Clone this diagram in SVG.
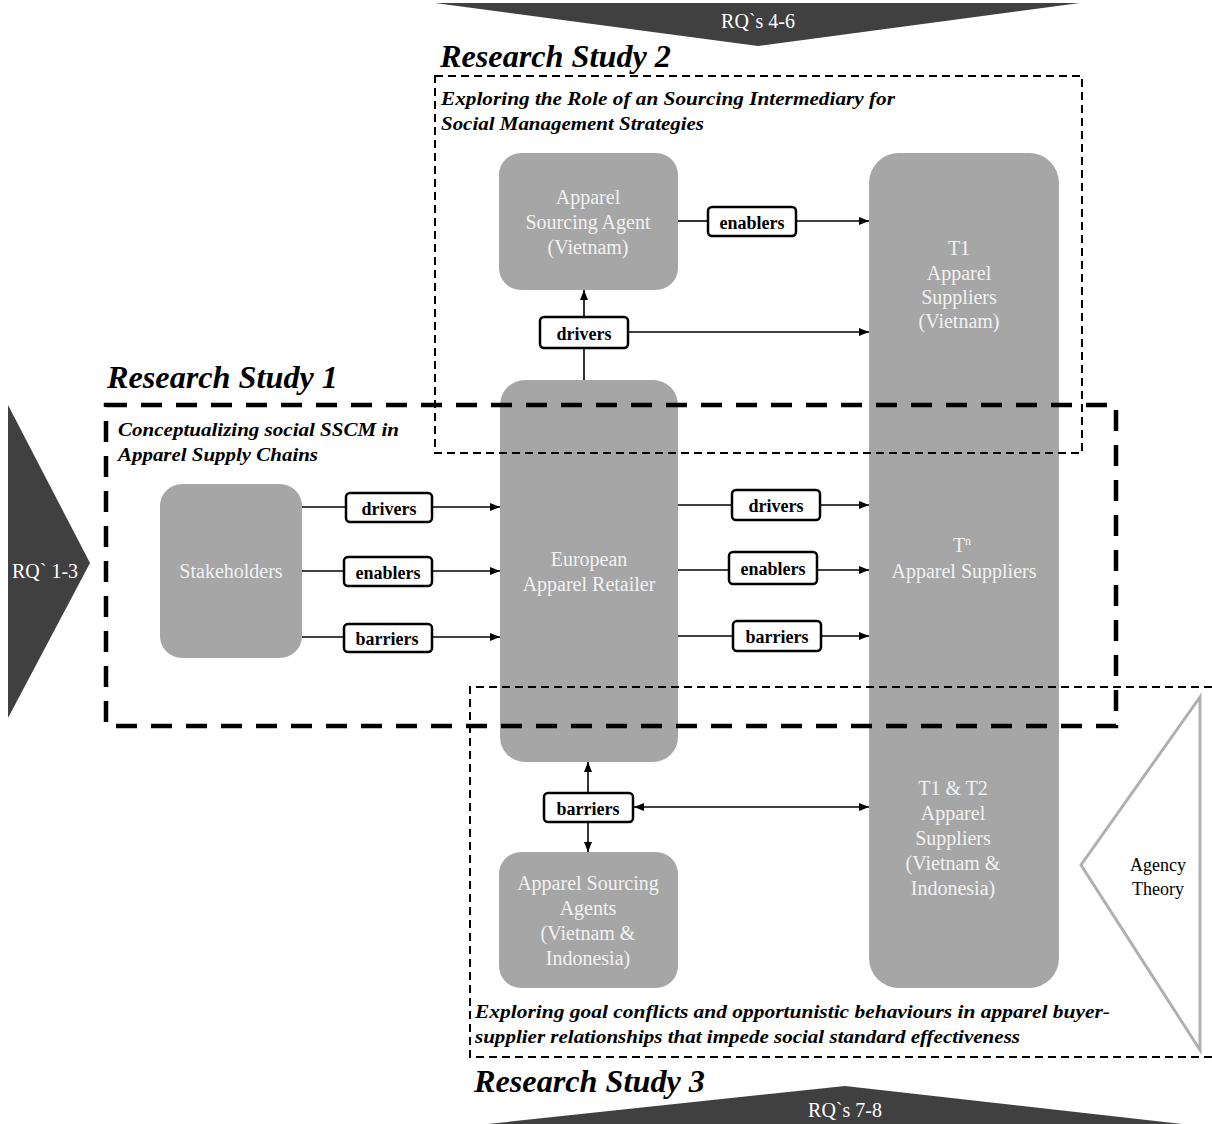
<svg xmlns="http://www.w3.org/2000/svg" width="1212" height="1124" viewBox="0 0 1212 1124">
  <style>
    text { font-family: "Liberation Serif", Tinos, "Times New Roman", Times, "DejaVu Serif", serif; }
    .node { fill: #a6a6a6; }
    .ntext { font-size: 20px; fill: #f2f2f2; text-anchor: middle; }
    .lbl { fill: #ffffff; stroke: #000000; stroke-width: 2.5; }
    .ltext { font-size: 18px; font-weight: bold; fill: #000000; text-anchor: middle; }
    .title { font-size: 31px; font-weight: bold; font-style: italic; fill: #000000; }
    .sub { font-size: 19px; font-weight: bold; font-style: italic; fill: #000000; }
    .banner { fill: #404040; }
    .btext { font-size: 20px; fill: #ffffff; text-anchor: middle; }
    .theory { font-size: 18px; fill: #000000; text-anchor: middle; }
    .wire { stroke: #000000; stroke-width: 1.6; fill: none; }
    .thin { stroke: #000000; stroke-width: 2; fill: none; stroke-dasharray: 8 5; }
    .thick { stroke: #000000; stroke-width: 4.5; fill: none; stroke-dasharray: 21 14; }
  </style>
  <defs>
    <marker id="arr" viewBox="0 0 10 10" refX="10" refY="5" markerWidth="10" markerHeight="10" markerUnits="userSpaceOnUse" orient="auto">
      <path d="M0,1 L10,5 L0,9 Z" fill="#000000"/>
    </marker>
    <marker id="arrS" viewBox="0 0 10 10" refX="0" refY="5" markerWidth="10" markerHeight="10" markerUnits="userSpaceOnUse" orient="auto">
      <path d="M10,1 L0,5 L10,9 Z" fill="#000000"/>
    </marker>
  </defs>

  <rect width="1212" height="1124" fill="#ffffff"/>

  <!-- research question banners -->
  <g id="rq-4-6">
    <polygon class="banner" points="435,3 1080,3 758,46"/>
    <text class="btext" x="758" y="28">RQ`s 4-6</text>
  </g>
  <g id="rq-1-3">
    <polygon class="banner" points="8,405 90,563 8,718"/>
    <text class="btext" x="45" y="578" font-size="19">RQ` 1-3</text>
  </g>
  <g id="rq-7-8">
    <polygon class="banner" points="488,1124 845,1086 1182,1124"/>
    <text class="btext" x="845" y="1117">RQ`s 7-8</text>
  </g>

  <!-- theory -->
  <g id="agency-theory">
    <polygon points="1200,697 1081,865 1200,1050" fill="none" stroke="#b0b0b0" stroke-width="3"/>
    <text class="theory" x="1158" y="871">Agency</text>
    <text class="theory" x="1158" y="895">Theory</text>
  </g>

  <!-- nodes -->
  <g id="sourcing-agent-vn">
    <rect class="node" x="499" y="153" width="179" height="137" rx="22"/>
    <text class="ntext" x="588" y="204">Apparel</text>
    <text class="ntext" x="588" y="229">Sourcing  Agent</text>
    <text class="ntext" x="588" y="254">(Vietnam)</text>
  </g>
  <g id="suppliers">
    <rect class="node" x="869" y="153" width="190" height="835" rx="30"/>
    <text class="ntext" x="959" y="255">T1</text>
    <text class="ntext" x="959" y="280">Apparel</text>
    <text class="ntext" x="959" y="304">Suppliers</text>
    <text class="ntext" x="959" y="328">(Vietnam)</text>
    <text class="ntext" x="962" y="552">T<tspan font-size="12" dy="-7">n</tspan></text>
    <text class="ntext" x="964" y="578">Apparel  Suppliers</text>
    <text class="ntext" x="953" y="795">T1 &amp; T2</text>
    <text class="ntext" x="953" y="820">Apparel</text>
    <text class="ntext" x="953" y="845">Suppliers</text>
    <text class="ntext" x="953" y="870">(Vietnam  &amp;</text>
    <text class="ntext" x="953" y="895">Indonesia)</text>
  </g>
  <g id="stakeholders">
    <rect class="node" x="160" y="484" width="142" height="174" rx="22"/>
    <text class="ntext" x="231" y="578">Stakeholders</text>
  </g>
  <g id="retailer">
    <rect class="node" x="500" y="380" width="178" height="382" rx="25"/>
    <text class="ntext" x="589" y="566">European</text>
    <text class="ntext" x="589" y="591">Apparel  Retailer</text>
  </g>
  <g id="sourcing-agents-vn-id">
    <rect class="node" x="499" y="852" width="179" height="136" rx="22"/>
    <text class="ntext" x="588" y="890">Apparel  Sourcing</text>
    <text class="ntext" x="588" y="915">Agents</text>
    <text class="ntext" x="588" y="940">(Vietnam  &amp;</text>
    <text class="ntext" x="588" y="965">Indonesia)</text>
  </g>

  <!-- connectors -->
  <g id="connectors">
    <line class="wire" x1="678" y1="221" x2="708" y2="221"/>
    <line class="wire" x1="796" y1="221" x2="869" y2="221" marker-end="url(#arr)"/>
    <line class="wire" x1="584" y1="380" x2="584" y2="348"/>
    <line class="wire" x1="584" y1="317" x2="584" y2="290" marker-end="url(#arr)"/>
    <line class="wire" x1="628" y1="332" x2="869" y2="332" marker-end="url(#arr)"/>

    <line class="wire" x1="302" y1="507" x2="346" y2="507"/>
    <line class="wire" x1="432" y1="507" x2="500" y2="507" marker-end="url(#arr)"/>
    <line class="wire" x1="302" y1="571" x2="344" y2="571"/>
    <line class="wire" x1="432" y1="571" x2="500" y2="571" marker-end="url(#arr)"/>
    <line class="wire" x1="302" y1="637" x2="344" y2="637"/>
    <line class="wire" x1="432" y1="637" x2="500" y2="637" marker-end="url(#arr)"/>

    <line class="wire" x1="678" y1="505" x2="732" y2="505"/>
    <line class="wire" x1="820" y1="505" x2="869" y2="505" marker-end="url(#arr)"/>
    <line class="wire" x1="678" y1="570" x2="729" y2="570"/>
    <line class="wire" x1="817" y1="570" x2="869" y2="570" marker-end="url(#arr)"/>
    <line class="wire" x1="678" y1="636" x2="733" y2="636"/>
    <line class="wire" x1="821" y1="636" x2="869" y2="636" marker-end="url(#arr)"/>

    <line class="wire" x1="588" y1="793" x2="588" y2="762" marker-end="url(#arr)"/>
    <line class="wire" x1="588" y1="822" x2="588" y2="852" marker-end="url(#arr)"/>
    <line class="wire" x1="634" y1="807" x2="869" y2="807" marker-start="url(#arrS)" marker-end="url(#arr)"/>
  </g>

  <!-- relation labels -->
  <g id="labels">
    <rect class="lbl" x="708" y="207" width="88" height="29" rx="4"/>
    <text class="ltext" x="752" y="229">enablers</text>
    <rect class="lbl" x="540" y="317" width="88" height="31" rx="4"/>
    <text class="ltext" x="584" y="340">drivers</text>

    <rect class="lbl" x="346" y="493" width="86" height="29" rx="4"/>
    <text class="ltext" x="389" y="515">drivers</text>
    <rect class="lbl" x="344" y="557" width="88" height="29" rx="4"/>
    <text class="ltext" x="388" y="579">enablers</text>
    <rect class="lbl" x="344" y="624" width="88" height="28" rx="4"/>
    <text class="ltext" x="387" y="645">barriers</text>

    <rect class="lbl" x="732" y="490" width="88" height="30" rx="4"/>
    <text class="ltext" x="776" y="512">drivers</text>
    <rect class="lbl" x="729" y="552" width="88" height="32" rx="4"/>
    <text class="ltext" x="773" y="575">enablers</text>
    <rect class="lbl" x="733" y="621" width="88" height="30" rx="4"/>
    <text class="ltext" x="777" y="643">barriers</text>

    <rect class="lbl" x="544" y="793" width="89" height="29" rx="4"/>
    <text class="ltext" x="588" y="815">barriers</text>
  </g>

  <!-- study frames -->
  <g id="study-2">
    <rect class="thin" x="435" y="76" width="647" height="377"/>
    <text class="title" x="440" y="67" textLength="231" lengthAdjust="spacingAndGlyphs">Research Study 2</text>
    <text class="sub" x="441" y="105" textLength="454" lengthAdjust="spacingAndGlyphs">Exploring the  Role of an Sourcing Intermediary for</text>
    <text class="sub" x="441" y="130" textLength="263" lengthAdjust="spacingAndGlyphs">Social Management Strategies</text>
  </g>
  <g id="study-1">
    <rect class="thick" x="106" y="405" width="1010" height="321"/>
    <text class="title" x="107" y="388" textLength="231" lengthAdjust="spacingAndGlyphs">Research Study 1</text>
    <text class="sub" x="118" y="436" textLength="281" lengthAdjust="spacingAndGlyphs">Conceptualizing social SSCM in</text>
    <text class="sub" x="118" y="461" textLength="200" lengthAdjust="spacingAndGlyphs">Apparel Supply Chains</text>
  </g>
  <g id="study-3">
    <path class="thin" d="M1212,687 L470,687 L470,1057 L1212,1057"/>
    <text class="title" x="474" y="1092" textLength="231" lengthAdjust="spacingAndGlyphs">Research Study 3</text>
    <text class="sub" x="475" y="1018" textLength="635" lengthAdjust="spacingAndGlyphs">Exploring goal conflicts and opportunistic behaviours in apparel buyer-</text>
    <text class="sub" x="475" y="1043" textLength="545" lengthAdjust="spacingAndGlyphs">supplier relationships that impede social standard effectiveness</text>
  </g>
</svg>
